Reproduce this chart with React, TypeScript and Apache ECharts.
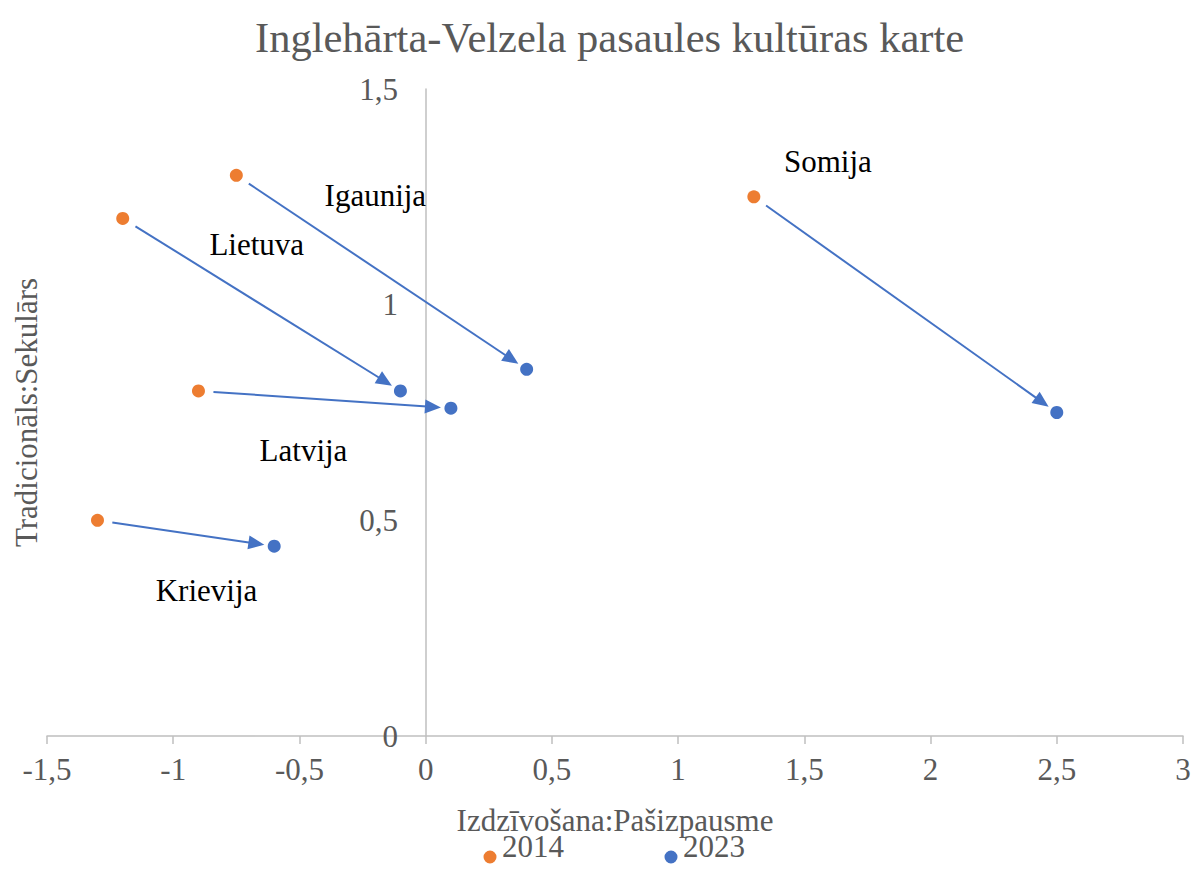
import React, { useEffect, useRef } from "react";
import * as echarts from "echarts";

const countries = ["Igaunija", "Lietuva", "Latvija", "Krievija", "Somija"];
const x2014 = [-0.75, -1.2, -0.9, -1.3, 1.3];
const y2014 = [1.3, 1.2, 0.8, 0.5, 1.25];
const x2023 = [0.4, -0.1, 0.1, -0.6, 2.5];
const y2023 = [0.85, 0.8, 0.76, 0.44, 0.75];
const seriesNames = ["2014", "2023"];
const xMin = -1.5, xMax = 3, xStep = 0.5;
const yMin = 0, yMax = 1.5, yStep = 0.5;

// layout only: pixel offsets of the country names relative to the 2014 points
const labelOffsets = [[139, 20], [134, 26], [105, 60], [109, 70], [74, -35]];

const ORANGE = "#ED7D31";
const BLUE = "#4472C4";
const GREY = "#595959";
const FONT = "Liberation Serif";
// legend marker: a dot sitting low in a tall box (invisible slivers keep the box)
const LEGEND_ICON = "path://M0 0 L14 0 L14 0.01 Z M0.5 29 A6.5 6.5 0 1 0 13.5 29 A6.5 6.5 0 1 0 0.5 29 Z M0 36 L14 36 L14 35.99 Z";

const fmt = (v: number) => String(v).replace(".", ",");

export default function App() {
  const ref = useRef<HTMLDivElement>(null);
  useEffect(() => {
    document.body.style.margin = "0";
    const chart = echarts.init(ref.current!, undefined, { renderer: "svg" });
    const START = 15, END = 10, HEAD = 16, HALF = 7;
    chart.setOption({
      animation: false,
      textStyle: { fontFamily: FONT },
      title: {
        text: "Inglehārta-Velzela pasaules kultūras karte",
        left: 250,
        top: 11,
        textStyle: { fontFamily: FONT, fontSize: 42.5, fontWeight: "normal", color: GREY },
      },
      legend: {
        data: seriesNames,
        left: 478,
        top: 823,
        icon: LEGEND_ICON,
        itemWidth: 14,
        itemHeight: 36,
        itemGap: 100,
        textStyle: { fontFamily: FONT, fontSize: 31, lineHeight: 26, color: GREY },
      },
      grid: { left: 47, right: 9, top: 89, bottom: 134, containLabel: false, outerBoundsMode: "none" },
      xAxis: {
        type: "value",
        min: xMin,
        max: xMax,
        interval: xStep,
        name: "Izdzīvošana:Pašizpausme",
        nameLocation: "middle",
        nameGap: 71,
        nameTextStyle: { fontFamily: FONT, fontSize: 31, lineHeight: 26, color: GREY },
        splitLine: { show: false },
        axisLine: { lineStyle: { color: "#BFBFBF", width: 1.5 } },
        axisTick: { show: true, length: 8, lineStyle: { color: "#BFBFBF", width: 1.5 } },
        axisLabel: { formatter: fmt, fontFamily: FONT, fontSize: 31, color: GREY, margin: 18 },
      },
      yAxis: {
        type: "value",
        min: yMin,
        max: yMax,
        interval: yStep,
        name: "Tradicionāls:Sekulārs",
        nameLocation: "middle",
        nameGap: 5,
        nameTextStyle: { fontFamily: FONT, fontSize: 31, color: GREY },
        splitLine: { show: false },
        axisLine: { onZero: true, lineStyle: { color: "#BFBFBF", width: 1.5 } },
        axisTick: { show: false },
        axisLabel: { formatter: fmt, fontFamily: FONT, fontSize: 31, color: GREY, margin: -351 },
      },
      series: [
        {
          type: "custom",
          name: "arrows",
          z: 1,
          encode: { x: [0, 2], y: [1, 3] },
          data: countries.map((_, i) => [x2014[i], y2014[i], x2023[i], y2023[i]]),
          renderItem: (params: any, api: any) => {
            const p0 = api.coord([api.value(0), api.value(1)]);
            const p1 = api.coord([api.value(2), api.value(3)]);
            const dx = p1[0] - p0[0], dy = p1[1] - p0[1];
            const len = Math.hypot(dx, dy);
            const ux = dx / len, uy = dy / len;
            const nx = -uy, ny = ux;
            const s = [p0[0] + ux * START, p0[1] + uy * START];
            const tip = [p1[0] - ux * END, p1[1] - uy * END];
            const base = [tip[0] - ux * HEAD, tip[1] - uy * HEAD];
            return {
              type: "group",
              children: [
                {
                  type: "line",
                  shape: { x1: s[0], y1: s[1], x2: base[0] + ux * 2, y2: base[1] + uy * 2 },
                  style: { stroke: BLUE, lineWidth: 2 },
                },
                {
                  type: "polygon",
                  shape: {
                    points: [
                      tip,
                      [base[0] + nx * HALF, base[1] + ny * HALF],
                      [base[0] - nx * HALF, base[1] - ny * HALF],
                    ],
                  },
                  style: { fill: BLUE },
                },
              ],
            };
          },
        },
        {
          type: "scatter",
          name: seriesNames[0],
          z: 3,
          symbolSize: 13,
          itemStyle: { color: ORANGE, opacity: 1 },
          data: countries.map((c, i) => ({
            value: [x2014[i], y2014[i]],
            name: c,
            label: {
              show: true,
              position: "inside",
              offset: labelOffsets[i],
              formatter: c,
              fontFamily: FONT,
              fontSize: 31,
              color: "#000000",
            },
          })),
        },
        {
          type: "scatter",
          name: seriesNames[1],
          z: 3,
          symbolSize: 13,
          itemStyle: { color: BLUE, opacity: 1 },
          data: countries.map((c, i) => ({ value: [x2023[i], y2023[i]], name: c })),
        },
      ],
    });
    return () => chart.dispose();
  }, []);
  return <div ref={ref} style={{ width: 1192, height: 870 }} />;
}
